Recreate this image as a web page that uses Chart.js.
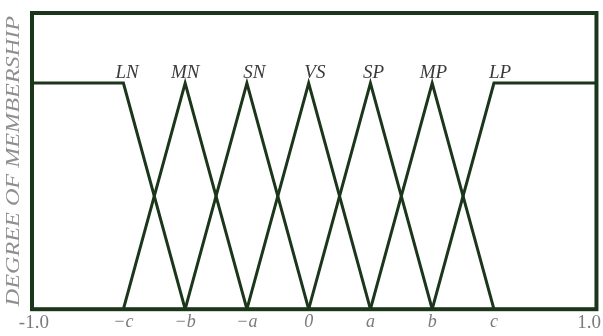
<!DOCTYPE html>
<html>
<head>
<meta charset="utf-8">
<style>
  html, body { margin: 0; padding: 0; background: #fff; }
  #wrap { position: relative; width: 603px; height: 336px; }
</style>
<script src="https://cdn.jsdelivr.net/npm/chart.js@4.4.1/dist/chart.umd.min.js"></script>
</head>
<body>
<div id="wrap"><canvas id="mf"></canvas></div>
<script>
/* Universe of discourse in step units: -c = -3 ... c = 3, edges at -1.0 / 1.0 */
var xMin = -4.48;
var xMax = 4.66;

var tickValues = [-4.45, -3, -2, -1, 0, 1, 2, 3, 4.54];
var tickLabels = ['-1.0', '\u2212c', '\u2212b', '\u2212a', '0', 'a', 'b', 'c', '1.0'];

/* Fuzzy set names and where their labels sit */
var setNames = ['LN', 'MN', 'SN', 'VS', 'SP', 'MP', 'LP'];
var setLabelX = [-2.94, -2, -0.88, 0.1, 1.05, 2.02, 3.1];

/* Membership functions, [x, degree] */
var LN = [[xMin, 1], [-3, 1], [-2, 0]];
var MN = [[-3, 0], [-2, 1], [-1, 0]];
var SN = [[-2, 0], [-1, 1], [0, 0]];
var VS = [[-1, 0], [0, 1], [1, 0]];
var SP = [[0, 0], [1, 1], [2, 0]];
var MP = [[1, 0], [2, 1], [3, 0]];
var LP = [[2, 0], [3, 1], [xMax, 1]];

var sets = [LN, MN, SN, VS, SP, MP, LP];
var lineColor = '#1b361b';
var yTitle = 'DEGREE OF MEMBERSHIP';

var datasets = sets.map(function(pts, i) {
  return {
    label: setNames[i],
    data: pts.map(function(p) { return { x: p[0], y: p[1] }; }),
    borderColor: lineColor,
    borderWidth: 3,
    pointRadius: 0,
    fill: false,
    tension: 0
  };
});

/* Full frame around the plot area */
var framePlugin = {
  id: 'frame',
  afterDatasetsDraw: function(chart) {
    var a = chart.chartArea, ctx = chart.ctx;
    ctx.save();
    ctx.strokeStyle = lineColor;
    ctx.lineWidth = 4;
    ctx.strokeRect(a.left, a.top, a.right - a.left, a.bottom - a.top);
    ctx.restore();
  }
};

/* Set names above each peak, and the stretched vertical axis title */
var textPlugin = {
  id: 'texts',
  afterDatasetsDraw: function(chart) {
    var ctx = chart.ctx, xs = chart.scales.x, ys = chart.scales.y, a = chart.chartArea;
    ctx.save();
    ctx.font = 'italic 19px "Liberation Serif", serif';
    ctx.fillStyle = '#3a3a3a';
    ctx.textAlign = 'center';
    ctx.textBaseline = 'alphabetic';
    setNames.forEach(function(name, i) {
      ctx.fillText(name, xs.getPixelForValue(setLabelX[i]), ys.getPixelForValue(1) - 5);
    });
    ctx.restore();

    ctx.save();
    ctx.font = 'italic 18px "Liberation Serif", serif';
    ctx.fillStyle = '#8f8f8f';
    ctx.textAlign = 'center';
    ctx.textBaseline = 'middle';
    var w = ctx.measureText(yTitle).width;
    var span = (a.bottom - a.top) - 6;
    ctx.translate(a.left - 18, (a.top + a.bottom) / 2);
    ctx.rotate(-Math.PI / 2);
    ctx.scale(span / w, 1);
    ctx.fillText(yTitle, 0, 0);
    ctx.restore();
  }
};

new Chart(document.getElementById('mf'), {
  type: 'line',
  data: { datasets: datasets },
  plugins: [framePlugin, textPlugin],
  options: {
    responsive: true,
    maintainAspectRatio: false,
    animation: false,
    layout: { padding: { left: 32, right: 6, top: 13, bottom: 0 } },
    plugins: { legend: { display: false }, tooltip: { enabled: false } },
    scales: {
      x: {
        type: 'linear',
        min: xMin,
        max: xMax,
        afterBuildTicks: function(scale) {
          scale.ticks = tickValues.map(function(v) { return { value: v }; });
        },
        ticks: {
          autoSkip: false,
          maxRotation: 0,
          padding: 2,
          color: '#7a7a7a',
          font: function(ctx) {
            var edge = ctx.index === 0 || ctx.index === tickValues.length - 1;
            return { family: '"Liberation Serif", serif', size: edge ? 19 : 18, style: edge ? 'normal' : 'italic' };
          },
          callback: function(v, i) { return tickLabels[i]; }
        },
        grid: { display: false, drawTicks: false },
        border: { display: false }
      },
      y: {
        min: 0,
        max: 1.31,
        ticks: { display: false },
        grid: { display: false, drawTicks: false },
        border: { display: false }
      }
    }
  }
});
</script>
</body>
</html>
